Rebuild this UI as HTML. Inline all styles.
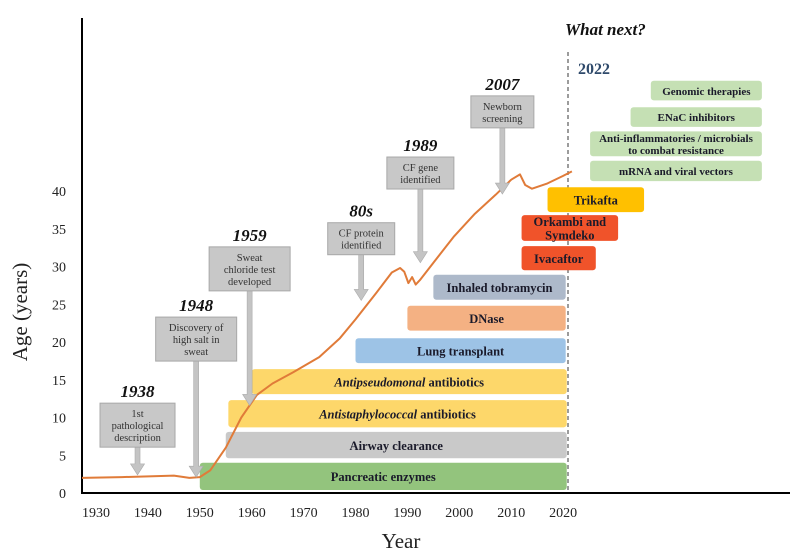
<!DOCTYPE html>
<html><head><meta charset="utf-8"><style>
html,body{margin:0;padding:0;background:#fff;}
svg{display:block;font-family:"Liberation Serif",serif;}
</style></head><body>
<svg id="chart" width="800" height="559" viewBox="0 0 800 559"></svg>
<script>
const tickYears=[1930,1940,1950,1960,1970,1980,1990,2000,2010,2020];
const tickAges=[0,5,10,15,20,25,30,35,40];
const curveYears=[1927.3,1935,1945,1948,1950,1952,1955,1958,1961,1964,1968,1973,1977,1980,1984,1987,1988.6,1989.4,1990.2,1990.9,1991.6,1992.4,1995,1999,2003,2007,2010,2011.7,2012.7,2014,2017,2020,2021.7];
const curveAges=[2.0,2.1,2.3,2.0,2.1,3.0,6,10,13,14.5,16,18,20.5,23,26.5,29.2,29.8,29.3,27.8,28.6,27.6,28.2,30.5,34,37,39.5,41.5,42.2,40.8,40.3,41,42,42.6];
const barLabels=["Pancreatic enzymes","Airway clearance","*Antistaphylococcal* antibiotics","*Antipseudomonal* antibiotics","Lung transplant","DNase","Inhaled tobramycin","Ivacaftor","Orkambi and|Symdeko","Trikafta","mRNA and viral vectors","Anti-inflammatories / microbials|to combat resistance","ENaC inhibitors","Genomic therapies"];
const barStart=[1950,1955,1955.5,1960,1980,1990,1995,2012,2012,2017,2025.2,2025.2,2033,2036.9];
const barEnd=[2020.7,2020.7,2020.7,2020.7,2020.5,2020.5,2020.5,2026.3,2030.6,2035.6,2058.3,2058.3,2058.3,2058.3];
const barLow=[0.4,4.6,8.7,13.1,17.2,21.5,25.6,29.5,33.4,37.2,41.3,44.6,48.5,52.0];
const barHigh=[4.0,8.1,12.3,16.4,20.5,24.8,28.9,32.7,36.8,40.5,44.0,47.9,51.1,54.6];
const barColors=["#93c47d","#c9c9c9","#fdd76a","#fdd76a","#9dc3e6","#f4b183","#adb9ca","#f0532a","#f0532a","#ffc000","#c5e0b4","#c5e0b4","#c5e0b4","#c5e0b4"];
const eventLabels=["1938","1948","1959","80s","1989","2007"];
const eventYears=[1938,1949.3,1959.6,1981.1,1992.5,2008.3];
const eventText=["1st|pathological|description","Discovery of|high salt in|sweat","Sweat|chloride test|developed","CF protein|identified","CF gene|identified","Newborn|screening"];
const eventArrowTo=[2.4,2.1,11.6,25.5,30.5,39.6];
const eventBoxTop=[11.9,23.3,32.6,35.8,44.5,52.6];

const X=y=>96+(y-1930)*5.19;
const Y=a=>493-a*7.55;
const svg=document.getElementById('chart');
const NS="http://www.w3.org/2000/svg";
function mk(tag,attrs,parent){const e=document.createElementNS(NS,tag);for(const k in attrs)e.setAttribute(k,attrs[k]);(parent||svg).appendChild(e);return e;}

let e=mk('line',{x1:82,y1:18,x2:82,y2:494,stroke:'#000','stroke-width':2});

e=mk('line',{x1:81,y1:493,x2:790,y2:493,stroke:'#000','stroke-width':2});

tickYears.forEach(t=>{const l=mk('text',{x:X(t),y:517,'text-anchor':'middle','font-size':14,fill:'#222'});l.textContent=t;
});
tickAges.forEach(t=>{const l=mk('text',{x:66,y:Y(t)+5,'text-anchor':'end','font-size':14,fill:'#222'});l.textContent=t;
});
e=mk('text',{x:0,y:0,transform:'translate(27,312) rotate(-90)','text-anchor':'middle','font-size':21,fill:'#222'});e.textContent='Age (years)';

e=mk('text',{x:401,y:548,'text-anchor':'middle','font-size':21,fill:'#222'});e.textContent='Year';


e=mk('line',{x1:568,y1:52,x2:568,y2:493,stroke:'#666','stroke-width':1.3,'stroke-dasharray':'4,3'});

e=mk('text',{x:565,y:35,'font-size':17,'font-weight':'bold','font-style':'italic',fill:'#111'});e.textContent='What next?';

e=mk('text',{x:578,y:74,'font-size':16,'font-weight':'bold',fill:'#2f4a6b'});e.textContent='2022';


barLabels.forEach((lab,i)=>{
  const x0=X(barStart[i]),x1=X(barEnd[i]),y0=Y(barHigh[i]),y1=Y(barLow[i]);
  const r=mk('rect',{x:x0,y:y0,width:x1-x0,height:y1-y0,rx:3,fill:barColors[i]});
  
  const lines=lab.split('|');const fs=i>=10?11:12.5;
  const cy=(y0+y1)/2;
  lines.forEach((ln,j)=>{
    const t=mk('text',{x:(x0+x1)/2,y:cy+fs*0.38+(j-(lines.length-1)/2)*fs*1.05,'text-anchor':'middle','font-size':fs,'font-weight':'bold',fill:'#1a1a2a'});
    
    ln.split('*').forEach((part,k)=>{if(!part)return;const s=mk('tspan',{},t);if(k%2==1)s.setAttribute('font-style','italic');s.textContent=part;});
  });
});

let d='';curveYears.forEach((y,i)=>{d+=(i?'L':'M')+X(y).toFixed(1)+','+Y(curveAges[i]).toFixed(1);});
e=mk('path',{d:d,fill:'none',stroke:'#e07b39','stroke-width':2,'stroke-linejoin':'round'});


eventLabels.forEach((lab,i)=>{
  const lines=eventText[i].split('|');
  const cx=X(eventYears[i]);const w=lines.length>2?(i==0?75:81):(i==5?63:67);
  const top=Y(eventBoxTop[i]);const h=lines.length*12+8;
  const ax=X(eventYears[i]);
  const tip=Y(eventArrowTo[i]);
  const ar=mk('path',{d:`M${ax-2.5},${top+h} L${ax+2.5},${top+h} L${ax+2.5},${tip-11} L${ax+7},${tip-11} L${ax},${tip} L${ax-7},${tip-11} L${ax-2.5},${tip-11} Z`,fill:'#c4c4c4',stroke:'#aaa','stroke-width':0.6});
  
  const b=mk('rect',{x:cx-w/2,y:top,width:w,height:h,fill:'#c8c8c8',stroke:'#a8a8a8','stroke-width':1});
  
  lines.forEach((ln,j)=>{const t=mk('text',{x:cx,y:top+14+j*12,'text-anchor':'middle','font-size':10.5,fill:'#333'});t.textContent=ln;
    });
  const yl=mk('text',{x:cx,y:top-6,'text-anchor':'middle','font-size':17,'font-weight':'bold','font-style':'italic',fill:'#111'});yl.textContent=lab;
  
});
</script>
</body></html>
